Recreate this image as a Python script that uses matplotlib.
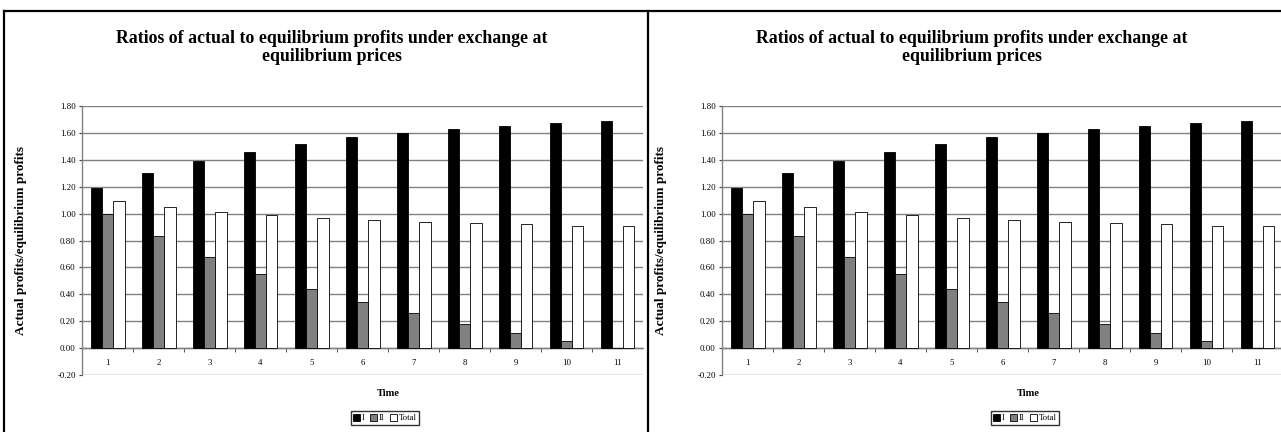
import numpy as np
import matplotlib
matplotlib.use("Agg")
import matplotlib.pyplot as plt
from matplotlib.lines import Line2D

plt.rcParams['font.family'] = ['Liberation Serif', 'DejaVu Serif']

# data
times = [1, 2, 3, 4, 5, 6, 7, 8, 9, 10, 11]
ratio_I = [1.19, 1.30, 1.39, 1.46, 1.52, 1.57, 1.60, 1.63, 1.65, 1.67, 1.69]
ratio_II = [1.00, 0.83, 0.68, 0.55, 0.44, 0.34, 0.26, 0.18, 0.11, 0.05, 0.00]
ratio_total = [1.09, 1.05, 1.01, 0.99, 0.97, 0.95, 0.94, 0.93, 0.92, 0.91, 0.91]
series_names = ["I", "II", "Total"]
series_colors = ["black", "#808080", "white"]
yticks = np.round(np.arange(-0.2, 1.81, 0.2), 2)

W, H = 1281, 432
fig = plt.figure(figsize=(W / 100, H / 100), dpi=100)

def panel(x_off):
    ax = fig.add_axes([(82 + x_off) / W, (H - 375) / H, 561 / W, 269 / H])
    x = np.arange(len(times))
    bw = 1 / 4.5
    bars = []
    for i, (vals, col) in enumerate(zip([ratio_I, ratio_II, ratio_total], series_colors)):
        b = ax.bar(x + (i - 1) * bw, vals, width=bw, color=col,
                   edgecolor="black", linewidth=0.6, zorder=3)
        bars.append(b)
    ax.set_xlim(-0.5, len(times) - 0.5)
    ax.set_ylim(-0.2, 1.8)
    ax.set_yticks(yticks)
    ax.set_yticklabels(["%.2f" % v for v in yticks], fontsize=6.3)
    ax.yaxis.grid(True, color="#808080", linewidth=1.0, zorder=0)
    ax.set_axisbelow(True)
    for s in ["top", "right"]:
        ax.spines[s].set_visible(False)
    ax.spines["left"].set_color("#808080")
    ax.spines["left"].set_linewidth(1.0)
    ax.spines["bottom"].set_position(("data", 0))
    ax.spines["bottom"].set_color("#808080")
    ax.spines["bottom"].set_linewidth(1.0)
    ax.set_xticks(x)
    ax.set_xticklabels([str(t) for t in times], fontsize=6.3)
    ax.set_xticks(x[:-1] + 0.5, minor=True)
    ax.tick_params(axis="x", which="major", length=0, pad=8)
    ax.tick_params(axis="x", which="minor", length=3, color="#404040", direction="out")
    ax.tick_params(axis="y", length=2.5, color="#404040", pad=2)
    ax.set_ylabel("Actual profits/equilibrium profits", fontsize=9.5,
                  fontweight="bold")
    ax.yaxis.set_label_coords(-55 / 561, 0.5)

    fig.text((332 + x_off) / W, 1 - 47.5 / H,
             "Ratios of actual to equilibrium profits under exchange at\nequilibrium prices",
             ha="center", va="center", fontsize=12.8, fontweight="bold", linespacing=1.1)
    fig.text((388 + x_off) / W, 1 - 394 / H, "Time", ha="center", va="center",
             fontsize=7.5, fontweight="bold")
    fig.legend(bars, series_names, loc="center", ncol=3,
               bbox_to_anchor=((385 + x_off) / W, 1 - 418 / H),
               fontsize=6.3, frameon=True, fancybox=False, edgecolor="black",
               handlelength=0.8, handleheight=0.8, handletextpad=0.2,
               columnspacing=0.6, borderpad=0.3, borderaxespad=0)

panel(0)
panel(640)

# panel borders
lw = 1.6
fig.add_artist(Line2D([4 / W, 1], [1 - 10.5 / H] * 2, color="black", lw=lw))
fig.add_artist(Line2D([4 / W] * 2, [0, 1 - 10.5 / H], color="black", lw=lw))
fig.add_artist(Line2D([648 / W] * 2, [0, 1 - 10.5 / H], color="black", lw=lw))

fig.savefig("out.png", dpi=100)
